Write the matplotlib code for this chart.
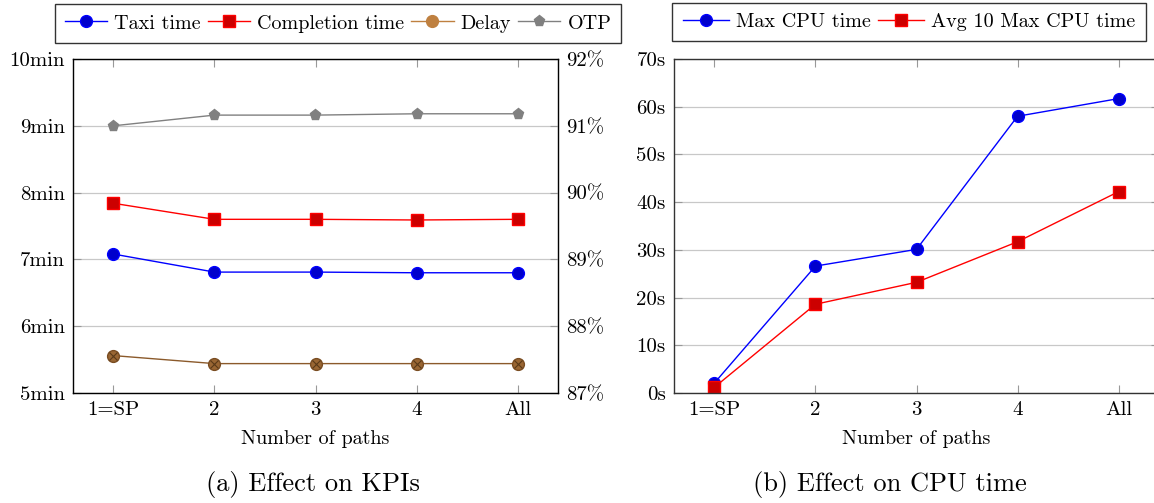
import numpy as np
import matplotlib.pyplot as plt
from matplotlib.ticker import FuncFormatter

plt.rcParams['font.family'] = ['cmr10', 'DejaVu Serif']
plt.rcParams['axes.formatter.use_mathtext'] = True
plt.rcParams['mathtext.fontset'] = 'cm'

# data
paths = ['1=SP', '2', '3', '4', 'All']
taxi_time = [7.08, 6.81, 6.81, 6.80, 6.80]          # min
completion_time = [7.84, 7.60, 7.60, 7.59, 7.60]    # min
delay = [5.56, 5.44, 5.44, 5.44, 5.44]              # min
otp = [91.0, 91.16, 91.16, 91.18, 91.18]            # %
max_cpu = [2.1, 26.6, 30.1, 58.0, 61.7]             # s
avg10_cpu = [1.2, 18.6, 23.2, 31.7, 42.2]           # s

x = np.arange(len(paths))

W, H = 1154, 503
fig = plt.figure(figsize=(W / 100, H / 100), dpi=100)

def px_axes(x0, y0, x1, y1):
    return fig.add_axes([x0 / W, 1 - y1 / H, (x1 - x0) / W, (y1 - y0) / H])

blue, red, brown, gray = '#0000ff', '#ff0000', '#bf8040', '#808080'
tick_fs = 15

def style(ax):
    ax.set_xlim(-0.4, 4.4)
    ax.set_xticks(x)
    ax.set_xticklabels(paths)
    ax.grid(axis='y', color='#c8c8c8', linewidth=0.9)
    ax.set_axisbelow(True)
    ax.tick_params(direction='in', length=6, width=0.8, color='#999999',
                   labelsize=tick_fs, top=True, pad=6)
    for s in ax.spines.values():
        s.set_linewidth(1.0)
        s.set_color('#333333')
    ax.set_xlabel('Number of paths', fontsize=14.5, labelpad=8)

leg_kw = dict(loc='center', bbox_transform=fig.transFigure, fontsize=14.5,
              frameon=True, fancybox=False, edgecolor='black',
              handletextpad=0.35, columnspacing=0.35,
              borderpad=0.5, borderaxespad=0)

# (a) KPIs
ax1 = px_axes(73, 59, 558, 393)
style(ax1)
ax1.set_ylim(5, 10)
ax1.set_yticks(range(5, 11))
ax1.yaxis.set_major_formatter(FuncFormatter(lambda v, p: f'{int(v)}min'))
l1, = ax1.plot(x, taxi_time, color=blue, lw=1, marker='o', ms=8.5,
               mfc='#0000cc', mec=blue)
l2, = ax1.plot(x, completion_time, color=red, lw=1, marker='s', ms=8,
               mfc='#cc0000', mec=red)
l3, = ax1.plot(x, delay, color='#8b5a2b', lw=1, marker='o', ms=8.5,
               mfc='#996633', mec='#7a4d22')
ax1.plot(x, delay, ls='none', marker='x', ms=5.5, mec='#5a3a18', mew=0.8)

ax1b = ax1.twinx()
ax1b.set_ylim(87, 92)
ax1b.set_yticks(range(87, 93))
ax1b.yaxis.set_major_formatter(FuncFormatter(lambda v, p: f'{int(v)}%'))
ax1b.tick_params(direction='in', length=6, width=0.8, color='#999999',
                 labelsize=tick_fs, pad=6)
l4, = ax1b.plot(x, otp, color=gray, lw=1, marker='p', ms=8,
                mfc='#808080', mec=gray)
ax1.tick_params(axis='y', right=False)

leg1 = ax1.legend([l1, l2, l3, l4], ['Taxi time', 'Completion time', 'Delay', 'OTP'],
                  bbox_to_anchor=((58 + 618) / 2 / W, 1 - 23.5 / H), ncol=4,
                  handlelength=2.1, **leg_kw)
leg1.get_frame().set_linewidth(1.0)
leg1.legend_handles[2].set_color(brown)
leg1.legend_handles[2].set_markerfacecolor(brown)
leg1.legend_handles[2].set_markeredgecolor(brown)

fig.text(313 / W, 1 - 485 / H, '(a) Effect on KPIs', ha='center', va='center', fontsize=19)

# (b) CPU time
ax2 = px_axes(674, 59, 1159, 393)
style(ax2)
ax2.set_ylim(0, 70)
ax2.set_yticks(range(0, 71, 10))
ax2.yaxis.set_major_formatter(FuncFormatter(lambda v, p: f'{int(v)}s'))
ax2.tick_params(axis='y', right=True)
ax2.plot(x, max_cpu, color=blue, lw=1, marker='o', ms=8.5,
         mfc='#0000cc', mec=blue, label='Max CPU time')
ax2.plot(x, avg10_cpu, color=red, lw=1, marker='s', ms=8,
         mfc='#cc0000', mec=red, label='Avg 10 Max CPU time')
leg2 = ax2.legend(bbox_to_anchor=((672 + 1146) / 2 / W, 1 - 22 / H), ncol=2,
                  handlelength=2.3, **leg_kw)
leg2.get_frame().set_linewidth(1.0)

fig.text(890 / W, 1 - 485 / H, '(b) Effect on CPU time', ha='center', va='center', fontsize=19)

plt.savefig('out.png', dpi=100)
